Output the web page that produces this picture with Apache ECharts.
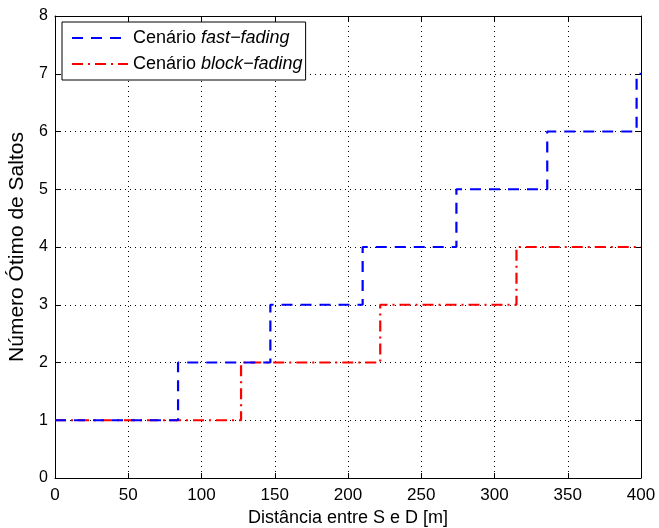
<!DOCTYPE html>
<html><head><meta charset="utf-8">
<script src="https://cdn.jsdelivr.net/npm/echarts@6/dist/echarts.min.js"></script>
<style>html,body{margin:0;padding:0;background:#fff}#c{width:659px;height:528px}</style>
</head><body><div id="c"></div>
<script>
const xTicks = [0, 50, 100, 150, 200, 250, 300, 350, 400];
const yTicks = [0, 1, 2, 3, 4, 5, 6, 7, 8];
// step change points: [distance, hops]
const fastX = [0, 84, 147, 210, 274, 336, 397, 400];
const fastY = [1, 2, 3, 4, 5, 6, 7, 7];
const blockX = [0, 127, 222, 315, 400];
const blockY = [1, 2, 3, 4, 4];
const seriesNames = ['fast−fading', 'block−fading'];

const font = 'Liberation Sans, Arial, Helvetica, sans-serif';
const chart = echarts.init(document.getElementById('c'));
const axisCommon = {
  axisLine: {show: true, onZero: false, lineStyle: {color: '#000', width: 1}},
  axisTick: {show: true, inside: true, length: 5, lineStyle: {color: '#000'}},
  splitLine: {show: false},
};
chart.setOption({
  animation: false,
  backgroundColor: '#fff',
  grid: {left: 55, right: 18, top: 16, bottom: 50, show: false, containLabel: false, outerBoundsMode: 'none'},
  legend: {
    left: 62, top: 22, orient: 'vertical',
    backgroundColor: '#fff', borderColor: '#000', borderWidth: 1,
    padding: [6, 3, 6, 9], itemGap: 6, itemWidth: 56, itemHeight: 14,
    data: seriesNames,
    formatter: n => '{a|Cenário }{b|' + n + '}',
    textStyle: {
      fontFamily: font, fontSize: 18, color: '#000', lineHeight: 20,
      rich: {a: {fontFamily: font, fontSize: 18, color: '#000', lineHeight: 20},
             b: {fontFamily: font, fontSize: 18, color: '#000', fontStyle: 'italic', lineHeight: 20}}
    }
  },
  xAxis: [
    Object.assign({}, axisCommon, {
      type: 'value', min: 0, max: 400, interval: 50, position: 'bottom',
      name: 'Distância entre S e D [m]', nameLocation: 'middle', nameGap: 31,
      nameTextStyle: {fontFamily: font, fontSize: 18, color: '#000'},
      axisLabel: {fontFamily: font, fontSize: 17, color: '#000', margin: 9},
      splitLine: {show: true, lineStyle: {type: [1, 4], color: '#000', width: 1}}
    }),
    Object.assign({}, axisCommon, {
      type: 'value', min: 0, max: 400, interval: 50, position: 'top',
      axisLabel: {show: false}
    })
  ],
  yAxis: [
    Object.assign({}, axisCommon, {
      type: 'value', min: 0, max: 8, interval: 1, position: 'left',
      name: 'Número Ótimo de Saltos', nameLocation: 'middle', nameGap: 22,
      nameTextStyle: {fontFamily: font, fontSize: 21, color: '#000'},
      axisLabel: {fontFamily: font, fontSize: 16, color: '#000', margin: 7},
      splitLine: {show: true, lineStyle: {type: [1, 4], color: '#000', width: 1}}
    }),
    Object.assign({}, axisCommon, {
      type: 'value', min: 0, max: 8, interval: 1, position: 'right',
      axisLabel: {show: false}
    })
  ],
  series: [
    {
      name: seriesNames[0], type: 'line', step: 'end',
      symbol: 'circle', showSymbol: false,
      data: fastX.map((x, i) => [x, fastY[i]]),
      lineStyle: {color: '#0000ff', width: 2.2, type: [11, 8]},
      itemStyle: {color: 'rgba(0,0,0,0)'}, z: 3
    },
    {
      name: seriesNames[1], type: 'line', step: 'end',
      symbol: 'circle', showSymbol: false,
      data: blockX.map((x, i) => [x, blockY[i]]),
      lineStyle: {color: '#ff0000', width: 2.2, type: [11, 5, 2, 5]},
      itemStyle: {color: 'rgba(0,0,0,0)'}, z: 2
    }
  ]
});
</script></body></html>
